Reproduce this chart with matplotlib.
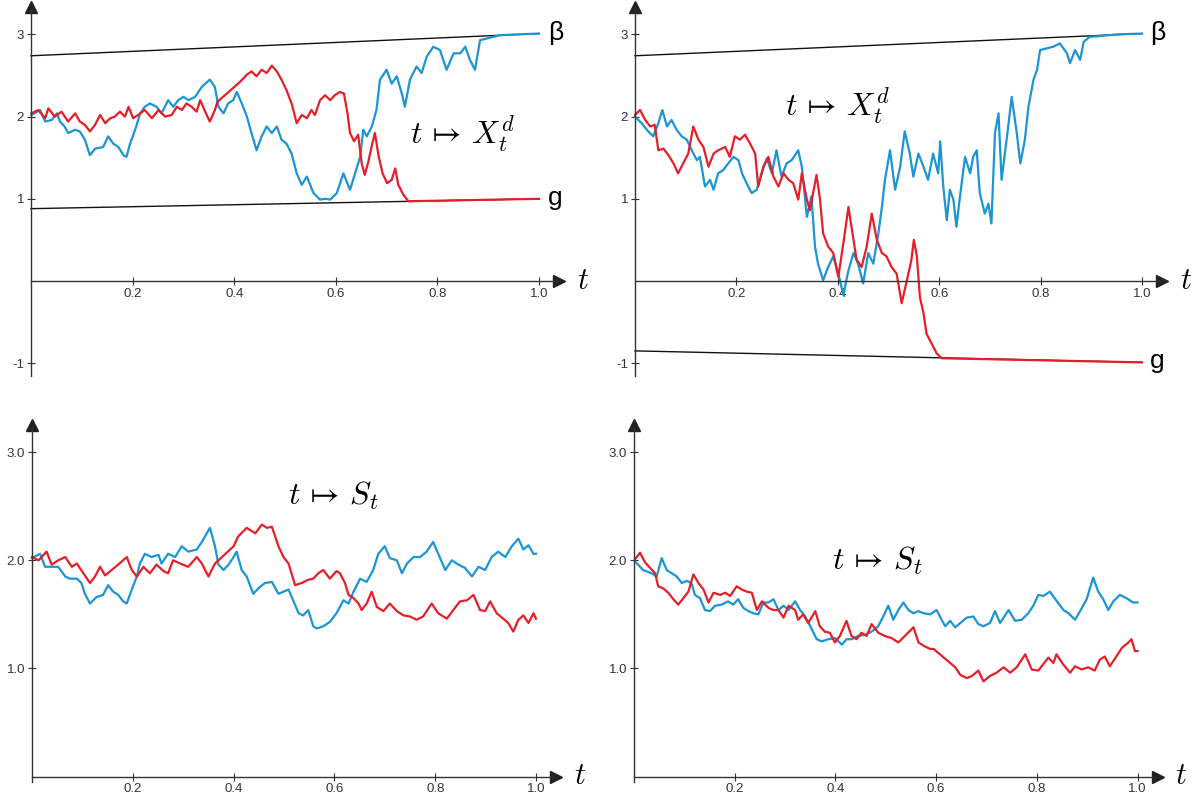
import matplotlib.pyplot as plt

plt.rcParams['font.family'] = ['Liberation Sans', 'DejaVu Sans']
plt.rcParams['mathtext.fontset'] = 'cm'

RED = '#e61e28'
BLUE = '#1b95d3'

# ---- top left: X^d with barriers beta / g ----
tl_red_t = [0.001, 0.014, 0.028, 0.034, 0.047, 0.060, 0.073, 0.087, 0.096, 0.106, 0.116, 0.126, 0.136,
            0.146, 0.156, 0.165, 0.175, 0.185, 0.192, 0.201, 0.211, 0.224, 0.238, 0.251, 0.264, 0.277,
            0.287, 0.297, 0.306, 0.316, 0.326, 0.333, 0.343, 0.352, 0.362, 0.367, 0.411, 0.425, 0.434,
            0.444, 0.454, 0.464, 0.474, 0.484, 0.493, 0.503, 0.513, 0.523, 0.533, 0.543, 0.552, 0.559,
            0.569, 0.579, 0.589, 0.598, 0.608, 0.616, 0.623, 0.628, 0.636, 0.644, 0.651, 0.657, 0.664,
            0.671, 0.677, 0.684, 0.692, 0.701, 0.710, 0.717, 0.723, 0.733, 0.743, 1.0]
tl_red_y = [2.04, 2.08, 1.98, 2.10, 2.00, 2.06, 1.94, 2.04, 1.94, 1.90, 1.82, 1.90, 2.02,
            1.92, 1.98, 2.00, 2.06, 2.00, 2.12, 1.98, 2.02, 2.08, 1.98, 2.08, 2.00, 2.02,
            2.12, 2.08, 2.16, 2.12, 2.06, 2.20, 2.06, 1.94, 2.08, 2.18, 2.42, 2.51, 2.55,
            2.49, 2.57, 2.53, 2.62, 2.55, 2.45, 2.32, 2.16, 1.92, 2.02, 1.98, 2.08, 2.02,
            2.20, 2.26, 2.20, 2.26, 2.30, 2.28, 2.04, 1.80, 1.70, 1.78, 1.43, 1.29, 1.45,
            1.65, 1.80, 1.53, 1.31, 1.19, 1.23, 1.37, 1.17, 1.05, 0.97, 1.00]
tl_blue_t = [0.001, 0.018, 0.028, 0.041, 0.051, 0.057, 0.066, 0.073, 0.087, 0.096, 0.106, 0.116, 0.126,
             0.142, 0.152, 0.162, 0.172, 0.182, 0.188, 0.195, 0.205, 0.215, 0.224, 0.234, 0.247, 0.257,
             0.270, 0.280, 0.290, 0.300, 0.310, 0.323, 0.336, 0.352, 0.362, 0.369, 0.379, 0.388, 0.398,
             0.405, 0.415, 0.425, 0.434, 0.444, 0.454, 0.464, 0.474, 0.484, 0.493, 0.503, 0.513, 0.523,
             0.533, 0.543, 0.556, 0.569, 0.579, 0.589, 0.602, 0.615, 0.628, 0.638, 0.648, 0.654, 0.661,
             0.671, 0.680, 0.687, 0.700, 0.710, 0.720, 0.730, 0.736, 0.746, 0.759, 0.769, 0.779, 0.792,
             0.805, 0.818, 0.832, 0.845, 0.855, 0.864, 0.874, 0.884, 0.897, 0.910, 0.923, 0.956, 1.0]
tl_blue_y = [2.02, 2.08, 1.94, 1.96, 2.04, 1.94, 1.88, 1.80, 1.84, 1.82, 1.72, 1.53, 1.61,
             1.63, 1.76, 1.67, 1.63, 1.53, 1.51, 1.67, 1.84, 2.04, 2.12, 2.16, 2.12, 2.04,
             2.20, 2.12, 2.20, 2.24, 2.20, 2.24, 2.36, 2.45, 2.36, 2.12, 2.04, 2.16, 2.20,
             2.30, 2.16, 2.00, 1.80, 1.59, 1.76, 1.88, 1.80, 1.88, 1.72, 1.67, 1.55, 1.31,
             1.17, 1.27, 1.07, 0.99, 1.00, 0.99, 1.07, 1.31, 1.11, 1.31, 1.51, 1.84, 1.76,
             1.88, 2.08, 2.45, 2.57, 2.40, 2.49, 2.28, 2.12, 2.45, 2.61, 2.53, 2.73, 2.85,
             2.81, 2.57, 2.77, 2.77, 2.85, 2.69, 2.57, 2.93, 2.95, 2.97, 2.99, 3.00, 3.01]
tl_beta = [2.74, 3.01]
tl_g = [0.88, 1.00]

# ---- top right ----
tr_red_t = [0.0, 0.010, 0.020, 0.030, 0.039, 0.046, 0.056, 0.066, 0.076, 0.085, 0.095, 0.105, 0.115,
            0.125, 0.135, 0.145, 0.155, 0.164, 0.178, 0.187, 0.197, 0.207, 0.217, 0.227, 0.237, 0.243,
            0.253, 0.263, 0.273, 0.283, 0.293, 0.303, 0.312, 0.322, 0.329, 0.339, 0.345, 0.358, 0.365,
            0.371, 0.381, 0.391, 0.401, 0.411, 0.421, 0.427, 0.437, 0.447, 0.457, 0.467, 0.477, 0.487,
            0.496, 0.506, 0.516, 0.526, 0.536, 0.545, 0.550, 0.556, 0.562, 0.569, 0.575, 0.585, 0.595,
            0.605, 1.0]
tr_red_y = [2.02, 2.08, 1.96, 1.88, 1.90, 1.59, 1.61, 1.53, 1.43, 1.31, 1.43, 1.55, 1.88,
            1.72, 1.63, 1.39, 1.55, 1.59, 1.63, 1.51, 1.76, 1.72, 1.78, 1.67, 1.55, 1.15,
            1.39, 1.51, 1.27, 1.15, 1.31, 1.23, 1.19, 0.99, 1.31, 0.99, 0.86, 1.29, 0.99,
            0.58, 0.42, 0.34, 0.05, 0.46, 0.90, 0.66, 0.26, 0.17, 0.42, 0.82, 0.50, 0.34,
            0.30, 0.17, 0.09, -0.27, 0.00, 0.25, 0.50, 0.30, -0.20, -0.39, -0.64, -0.76, -0.88,
            -0.94, -0.99]
tr_blue_t = [0.0, 0.013, 0.026, 0.036, 0.046, 0.054, 0.063, 0.072, 0.082, 0.092, 0.102, 0.112, 0.122,
             0.128, 0.138, 0.148, 0.155, 0.164, 0.174, 0.184, 0.194, 0.204, 0.211, 0.220, 0.230, 0.240,
             0.250, 0.260, 0.270, 0.279, 0.289, 0.299, 0.309, 0.322, 0.329, 0.339, 0.348, 0.355, 0.361,
             0.371, 0.381, 0.391, 0.401, 0.411, 0.421, 0.431, 0.440, 0.450, 0.460, 0.470, 0.480, 0.487,
             0.493, 0.503, 0.513, 0.523, 0.532, 0.542, 0.549, 0.559, 0.569, 0.578, 0.588, 0.598, 0.602,
             0.608, 0.615, 0.621, 0.628, 0.634, 0.641, 0.651, 0.661, 0.667, 0.674, 0.680, 0.690, 0.697,
             0.703, 0.710, 0.717, 0.723, 0.733, 0.743, 0.753, 0.760, 0.769, 0.776, 0.786, 0.793, 0.799,
             0.812, 0.825, 0.838, 0.852, 0.858, 0.868, 0.878, 0.885, 0.897, 0.917, 0.950, 1.0]
tr_blue_y = [2.00, 1.92, 1.82, 1.76, 1.92, 2.08, 1.88, 1.96, 1.84, 1.76, 1.72, 1.59, 1.47,
             1.51, 1.15, 1.23, 1.11, 1.31, 1.35, 1.43, 1.51, 1.47, 1.31, 1.19, 1.07, 1.11,
             1.31, 1.49, 1.31, 1.59, 1.27, 1.43, 1.47, 1.59, 1.39, 0.78, 1.03, 0.42, 0.21,
             0.01, 0.17, 0.30, 0.09, -0.17, 0.13, 0.34, 0.21, -0.03, 0.34, 0.21, 0.58, 0.90,
             1.23, 1.59, 1.11, 1.39, 1.82, 1.55, 1.27, 1.55, 1.39, 1.23, 1.55, 1.31, 1.70,
             1.15, 0.74, 1.11, 0.99, 0.66, 1.03, 1.51, 1.31, 1.51, 1.59, 1.07, 0.82, 0.94,
             0.70, 1.80, 2.04, 1.23, 1.72, 2.24, 1.80, 1.43, 1.72, 2.12, 2.45, 2.57, 2.81,
             2.83, 2.85, 2.89, 2.77, 2.65, 2.81, 2.69, 2.91, 2.97, 2.98, 3.00, 3.01]
tr_beta = [2.74, 3.01]
tr_g = [-0.85, -0.99]

# ---- bottom left: S ----
bl_red_t = [0.0, 0.013, 0.029, 0.039, 0.052, 0.066, 0.079, 0.089, 0.102, 0.115, 0.125, 0.135, 0.145,
            0.158, 0.171, 0.188, 0.198, 0.208, 0.221, 0.234, 0.247, 0.261, 0.270, 0.280, 0.294, 0.310,
            0.327, 0.337, 0.350, 0.363, 0.400, 0.409, 0.426, 0.443, 0.456, 0.466, 0.476, 0.489, 0.499,
            0.509, 0.522, 0.535, 0.548, 0.558, 0.568, 0.578, 0.591, 0.604, 0.611, 0.621, 0.628, 0.638,
            0.648, 0.654, 0.664, 0.674, 0.684, 0.697, 0.710, 0.724, 0.737, 0.750, 0.763, 0.776, 0.793,
            0.806, 0.823, 0.836, 0.849, 0.863, 0.876, 0.889, 0.899, 0.909, 0.922, 0.935, 0.945, 0.955,
            0.965, 0.975, 0.985, 0.995, 1.0]
bl_red_y = [2.03, 2.00, 2.08, 1.96, 2.00, 2.03, 1.94, 1.97, 1.88, 1.79, 1.85, 1.94, 1.86,
            1.91, 1.96, 2.03, 1.91, 1.85, 1.94, 1.88, 1.96, 1.90, 1.88, 2.00, 1.97, 1.94,
            2.03, 1.97, 1.85, 1.97, 2.13, 2.22, 2.30, 2.25, 2.33, 2.30, 2.31, 2.13, 2.03,
            1.97, 1.77, 1.79, 1.82, 1.83, 1.88, 1.91, 1.83, 1.90, 1.88, 1.79, 1.68, 1.65,
            1.60, 1.54, 1.60, 1.71, 1.57, 1.53, 1.60, 1.53, 1.49, 1.48, 1.45, 1.48, 1.60,
            1.51, 1.46, 1.54, 1.62, 1.63, 1.68, 1.54, 1.53, 1.62, 1.51, 1.46, 1.42, 1.34,
            1.45, 1.49, 1.42, 1.51, 1.46]
bl_blue_t = [0.0, 0.016, 0.026, 0.039, 0.052, 0.066, 0.075, 0.089, 0.098, 0.105, 0.115, 0.128, 0.141,
             0.151, 0.161, 0.171, 0.181, 0.188, 0.198, 0.208, 0.214, 0.224, 0.237, 0.251, 0.257, 0.270,
             0.284, 0.297, 0.310, 0.327, 0.337, 0.353, 0.363, 0.370, 0.380, 0.390, 0.400, 0.406, 0.416,
             0.426, 0.439, 0.449, 0.462, 0.476, 0.489, 0.499, 0.509, 0.519, 0.529, 0.538, 0.548, 0.558,
             0.565, 0.578, 0.591, 0.604, 0.618, 0.628, 0.638, 0.651, 0.664, 0.677, 0.687, 0.700, 0.710,
             0.724, 0.734, 0.744, 0.757, 0.770, 0.783, 0.796, 0.806, 0.820, 0.833, 0.846, 0.859, 0.873,
             0.886, 0.899, 0.912, 0.925, 0.939, 0.952, 0.965, 0.975, 0.985, 0.995, 1.0]
bl_blue_y = [2.02, 2.06, 1.94, 1.94, 1.94, 1.85, 1.83, 1.83, 1.79, 1.69, 1.60, 1.66, 1.68,
             1.77, 1.71, 1.68, 1.62, 1.60, 1.73, 1.85, 1.97, 2.06, 2.03, 2.05, 1.97, 2.06,
             2.03, 2.13, 2.08, 2.10, 2.17, 2.30, 2.13, 1.96, 1.91, 1.96, 2.03, 2.08, 1.91,
             1.85, 1.69, 1.74, 1.79, 1.80, 1.69, 1.71, 1.73, 1.62, 1.51, 1.49, 1.54, 1.39,
             1.37, 1.39, 1.43, 1.51, 1.63, 1.60, 1.71, 1.83, 1.80, 1.91, 2.06, 2.13, 2.02,
             2.00, 1.88, 1.97, 2.03, 2.03, 2.08, 2.17, 2.06, 1.91, 2.00, 1.96, 1.93, 1.85,
             1.94, 1.91, 2.03, 2.08, 2.03, 2.13, 2.20, 2.10, 2.14, 2.06, 2.06]

# ---- bottom right: S ----
br_red_t = [0.002, 0.012, 0.022, 0.032, 0.042, 0.048, 0.058, 0.068, 0.078, 0.088, 0.098, 0.108, 0.118,
            0.128, 0.138, 0.148, 0.158, 0.171, 0.181, 0.191, 0.204, 0.214, 0.224, 0.234, 0.244, 0.254,
            0.267, 0.277, 0.287, 0.297, 0.307, 0.320, 0.326, 0.336, 0.346, 0.360, 0.369, 0.379, 0.389,
            0.399, 0.409, 0.422, 0.432, 0.442, 0.452, 0.462, 0.472, 0.485, 0.498, 0.512, 0.525, 0.538,
            0.555, 0.565, 0.575, 0.588, 0.595, 0.638, 0.648, 0.661, 0.671, 0.684, 0.694, 0.707, 0.720,
            0.734, 0.747, 0.760, 0.777, 0.790, 0.803, 0.813, 0.823, 0.833, 0.839, 0.852, 0.866, 0.876,
            0.889, 0.902, 0.915, 0.925, 0.935, 0.945, 0.958, 0.969, 0.982, 0.988, 0.995, 1.0]
br_red_y = [2.01, 2.07, 1.98, 1.93, 1.88, 1.76, 1.74, 1.70, 1.64, 1.59, 1.65, 1.71, 1.87,
            1.79, 1.73, 1.61, 1.70, 1.68, 1.70, 1.67, 1.76, 1.73, 1.71, 1.70, 1.54, 1.62,
            1.56, 1.54, 1.54, 1.47, 1.58, 1.54, 1.45, 1.50, 1.42, 1.53, 1.39, 1.34, 1.33,
            1.24, 1.30, 1.44, 1.30, 1.27, 1.33, 1.30, 1.41, 1.33, 1.30, 1.28, 1.24, 1.30,
            1.38, 1.24, 1.21, 1.18, 1.18, 1.01, 0.94, 0.91, 0.93, 0.98, 0.88, 0.93, 0.96,
            1.01, 0.96, 1.01, 1.13, 0.99, 0.98, 1.04, 1.10, 1.05, 1.13, 1.04, 0.96, 1.02,
            0.99, 1.01, 0.98, 1.08, 1.11, 1.02, 1.11, 1.19, 1.24, 1.27, 1.16, 1.16]
br_blue_t = [0.002, 0.018, 0.035, 0.045, 0.055, 0.065, 0.075, 0.085, 0.095, 0.105, 0.114, 0.121, 0.131,
             0.141, 0.151, 0.161, 0.174, 0.187, 0.197, 0.207, 0.217, 0.227, 0.237, 0.247, 0.257, 0.267,
             0.277, 0.287, 0.297, 0.307, 0.320, 0.330, 0.340, 0.350, 0.363, 0.373, 0.386, 0.399, 0.413,
             0.422, 0.432, 0.445, 0.459, 0.472, 0.485, 0.495, 0.505, 0.515, 0.525, 0.535, 0.545, 0.555,
             0.565, 0.575, 0.588, 0.601, 0.611, 0.618, 0.628, 0.638, 0.648, 0.661, 0.674, 0.684, 0.694,
             0.707, 0.717, 0.727, 0.744, 0.757, 0.770, 0.783, 0.793, 0.803, 0.813, 0.826, 0.840, 0.853,
             0.863, 0.876, 0.886, 0.899, 0.912, 0.922, 0.932, 0.942, 0.952, 0.965, 0.978, 0.991, 1.0]
br_blue_y = [1.99, 1.91, 1.88, 1.85, 2.02, 1.91, 1.88, 1.85, 1.79, 1.81, 1.79, 1.68, 1.65,
             1.54, 1.53, 1.58, 1.59, 1.62, 1.59, 1.64, 1.56, 1.53, 1.51, 1.50, 1.61, 1.61,
             1.64, 1.54, 1.58, 1.54, 1.62, 1.54, 1.48, 1.39, 1.27, 1.25, 1.27, 1.28, 1.22,
             1.27, 1.27, 1.30, 1.31, 1.34, 1.39, 1.48, 1.58, 1.45, 1.54, 1.61, 1.54, 1.51,
             1.53, 1.51, 1.50, 1.54, 1.45, 1.39, 1.44, 1.38, 1.42, 1.47, 1.48, 1.41, 1.39,
             1.42, 1.53, 1.42, 1.54, 1.44, 1.45, 1.51, 1.58, 1.68, 1.67, 1.71, 1.62, 1.54,
             1.51, 1.45, 1.53, 1.64, 1.84, 1.71, 1.64, 1.54, 1.62, 1.68, 1.65, 1.61, 1.61]

top_yticks = [-1, 1, 2, 3]
top_ylabels = ['-1', '1', '2', '3']
bot_yticks = [1, 2, 3]
bot_ylabels = ['1.0', '2.0', '3.0']
xticks = [0.2, 0.4, 0.6, 0.8, 1.0]
xlabels = ['0.2', '0.4', '0.6', '0.8', '1.0']

W, H = 1198, 801
fig = plt.figure(figsize=(W / 100, H / 100), dpi=100)


def panel(x0, sx, y0, sy, ylim, ytop):
    # x0, y0: pixel position of the origin, sx, sy: pixels per unit
    xlim = (-0.02, 1.07)
    top_px = y0 - ylim[1] * sy
    bot_px = y0 - ylim[0] * sy
    left_px = x0 + xlim[0] * sx
    ax = fig.add_axes([left_px / W, 1 - bot_px / H, (xlim[1] - xlim[0]) * sx / W, (bot_px - top_px) / H])
    ax.set_xlim(*xlim)
    ax.set_ylim(*ylim)
    for s in ['top', 'right']:
        ax.spines[s].set_visible(False)
    ax.spines['left'].set_position(('data', 0))
    ax.spines['bottom'].set_position(('data', 0))
    ax.spines['left'].set_bounds(ylim[0], ytop)
    ax.spines['bottom'].set_bounds(0, 1.035)
    for s in ['left', 'bottom']:
        ax.spines[s].set_color('#333333')
        ax.spines[s].set_linewidth(1.0)
    ax.plot([1.04], [0], marker='>', ms=8, color='#222222', clip_on=False)
    ax.plot([0], [ytop + 0.03], marker='^', ms=8, color='#222222', clip_on=False)
    ax.tick_params(direction='inout', length=6, width=0.8, colors='#333333',
                   labelsize=9.5, pad=2)
    ax.set_xticks(xticks, xlabels)
    ax.text(1.075, 0, '$t$', fontsize=22, ha='left', va='center', clip_on=False)
    ax.patch.set_alpha(0)
    return ax


# top left
ax = panel(31, 508, 281, 82.2, (-1.15, 3.4), 3.3)
ax.set_yticks(top_yticks, top_ylabels)
ax.plot([0, 1], tl_beta, color='#111111', lw=1.0)
ax.plot([0, 1], tl_g, color='#111111', lw=1.0)
ax.plot(tl_blue_t, tl_blue_y, color=BLUE, lw=1.6)
ax.plot(tl_red_t, tl_red_y, color=RED, lw=1.6)
ax.text(1.018, 3.02, 'β', fontsize=19, ha='left', va='center')
ax.text(1.018, 1.01, 'g', fontsize=19, ha='left', va='center')
ax.text(0.85, 1.80, r'$t\,\mapsto\,X_t^d$', fontsize=23, ha='center', va='center')

# top right
ax = panel(635, 507, 281, 82.2, (-1.15, 3.4), 3.3)
ax.set_yticks(top_yticks, top_ylabels)
ax.plot([0, 1], tr_beta, color='#111111', lw=1.0)
ax.plot([0, 1], tr_g, color='#111111', lw=1.0)
ax.plot(tr_blue_t, tr_blue_y, color=BLUE, lw=1.6)
ax.plot(tr_red_t, tr_red_y, color=RED, lw=1.6)
ax.text(1.016, 3.02, 'β', fontsize=19, ha='left', va='center')
ax.text(1.016, -0.97, 'g', fontsize=19, ha='left', va='center')
ax.text(0.40, 2.14, r'$t\,\mapsto\,X_t^d$', fontsize=23, ha='center', va='center')

# bottom left
ax = panel(32, 504, 776.5, 108.1, (-0.05, 3.33), 3.22)
ax.set_yticks(bot_yticks, bot_ylabels)
ax.plot(bl_blue_t, bl_blue_y, color=BLUE, lw=1.6)
ax.plot(bl_red_t, bl_red_y, color=RED, lw=1.6)
ax.text(0.597, 2.60, r'$t\,\mapsto\,S_t$', fontsize=23, ha='center', va='center')

# bottom right
ax = panel(634, 503.5, 776.5, 108.1, (-0.05, 3.33), 3.22)
ax.set_yticks(bot_yticks, bot_ylabels)
ax.plot(br_blue_t, br_blue_y, color=BLUE, lw=1.6)
ax.plot(br_red_t, br_red_y, color=RED, lw=1.6)
ax.text(0.483, 2.00, r'$t\,\mapsto\,S_t$', fontsize=23, ha='center', va='center')

fig.savefig('out.png', dpi=100)
